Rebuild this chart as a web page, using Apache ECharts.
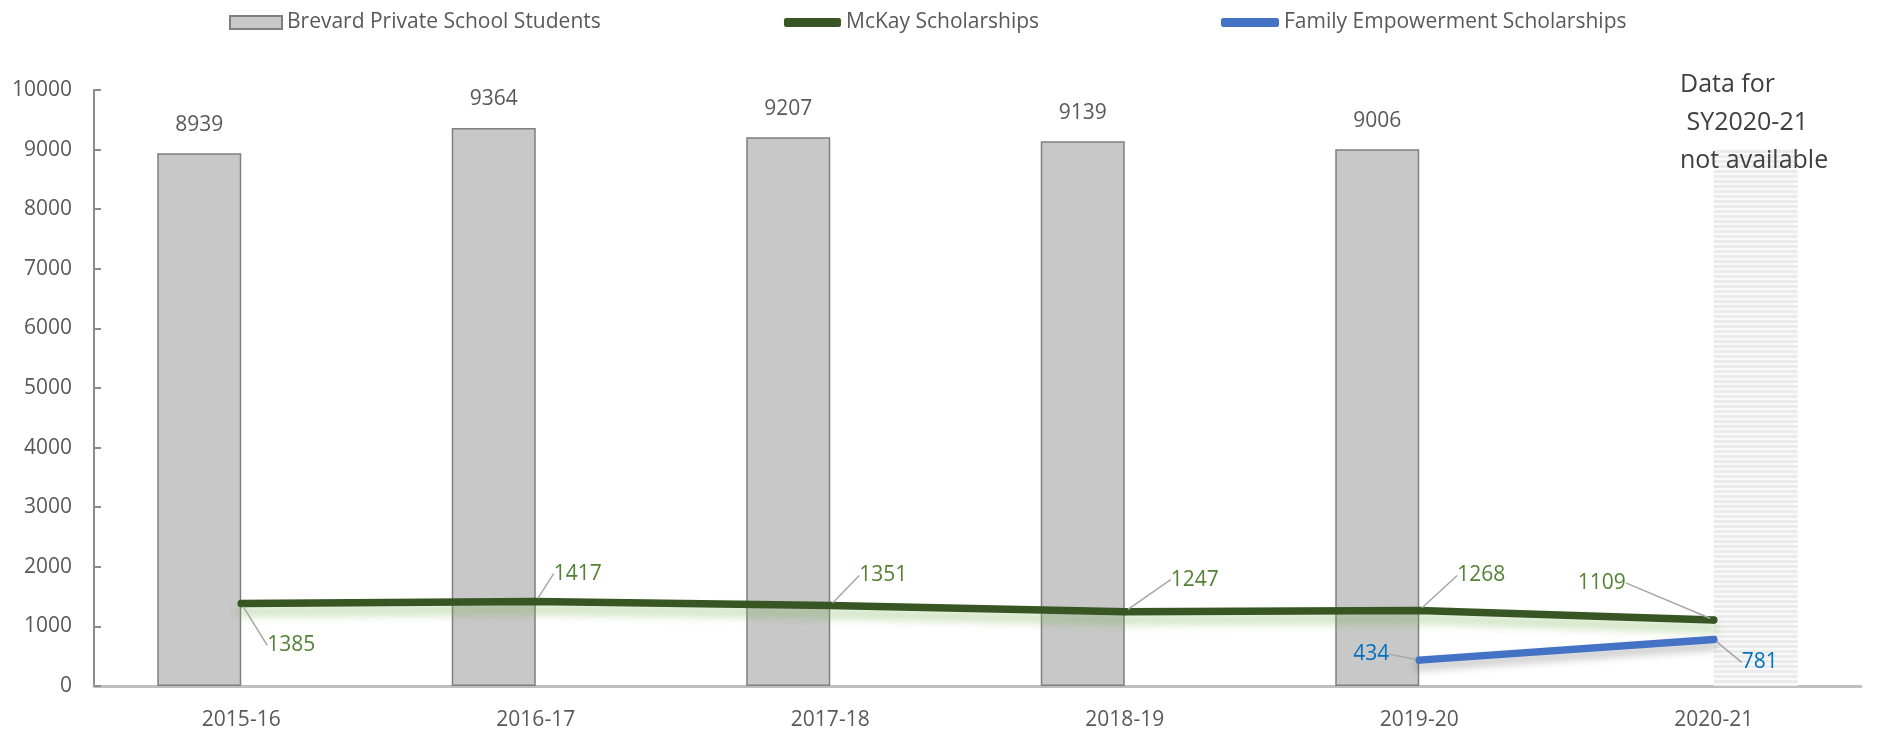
<!DOCTYPE html>
<html lang="en">
<head>
    <meta charset="UTF-8">
    <title>Brevard Private School Students</title>
    <style>
        body { margin: 0; background: #fff; }
    </style>
</head>
<body>
<div id="demo" style="width:1887px;height:745px"></div>
<script src="https://cdn.jsdelivr.net/npm/echarts@6/dist/echarts.min.js"></script>
<script type="text/javascript">

    var years = ['2015-16', '2016-17', '2017-18', '2018-19', '2019-20', '2020-21'];
    var privateStudents = [8939, 9364, 9207, 9139, 9006, null];
    var notAvailable = [null, null, null, null, null, 9000];
    var mckay = [1385, 1417, 1351, 1247, 1268, 1109];
    var familyEmp = [null, null, null, null, 434, 781];
    var yTicks = { min: 0, max: 10000, step: 1000 };

    // label offsets (px) from each point, roughly where the original puts them
    var mckayOff = [[50, 42], [42, -28], [53, -30], [70, -32], [62, -35], [-112, -37]];
    var famOff = [null, null, null, null, [-48, -6], [46, 23]];

    // striped fill for the "not available" column
    var cv = document.createElement('canvas');
    cv.width = 4; cv.height = 5;
    var cx = cv.getContext('2d');
    cx.fillStyle = '#ebebeb';
    cx.fillRect(0, 0, 4, 5);
    cx.fillStyle = '#fafafa';
    cx.fillRect(0, 3, 4, 2);

    var font = '"Open Sans", "Liberation Sans", sans-serif';
    var myChart = echarts.init(document.getElementById('demo'));

    var option = {
        animation: false,
        textStyle: { fontFamily: font },
        legend: [{
            data: [{ name: 'Brevard Private School Students', icon: 'rect' }],
            left: 224, top: 7, itemWidth: 52, itemHeight: 13,
            textStyle: { fontSize: 21, color: '#595959' }
        }, {
            data: [{ name: 'McKay Scholarships', icon: 'roundRect' }],
            left: 779, top: 7, itemWidth: 57, itemHeight: 9,
            textStyle: { fontSize: 21, color: '#595959' }
        }, {
            data: [{ name: 'Family Empowerment Scholarships', icon: 'roundRect' }],
            left: 1216, top: 7, itemWidth: 58, itemHeight: 9,
            textStyle: { fontSize: 21, color: '#595959' }
        }],
        grid: { left: 94, right: 26, top: 90, bottom: 59 },
        xAxis: {
            type: 'category',
            data: years,
            axisTick: { show: false },
            axisLine: { lineStyle: { color: '#bfbfbf', width: 3 } },
            axisLabel: { color: '#595959', fontSize: 21, margin: 24 }
        },
        yAxis: {
            type: 'value',
            min: yTicks.min, max: yTicks.max, interval: yTicks.step,
            splitLine: { show: false },
            axisLine: { show: true, lineStyle: { color: '#8c8c8c', width: 2 } },
            axisTick: { show: true, inside: true, length: 7, lineStyle: { color: '#8c8c8c', width: 2 } },
            axisLabel: {
                color: '#595959', fontSize: 21, margin: 22,
                formatter: function (v) { return String(v); }
            }
        },
        graphic: [{
            type: 'text',
            left: 1680, top: 66, z: 100,
            style: {
                text: 'Data for\n SY2020-21\nnot available',
                font: '25px ' + font,
                fill: '#404040',
                lineHeight: 38
            }
        }],
        series: [{
            name: 'Brevard Private School Students',
            type: 'bar',
            data: privateStudents,
            barWidth: 84,
            barGap: '0%',
            itemStyle: { color: '#c8c8c8', borderColor: '#7f7f7f', borderWidth: 1.5 },
            label: { show: true, position: 'top', distance: 18, color: '#595959', fontSize: 21 }
        }, {
            name: 'na',
            type: 'bar',
            data: notAvailable,
            barWidth: 84,
            itemStyle: { color: { image: cv, repeat: 'repeat' } },
            silent: true
        }, {
            name: 'McKay Scholarships',
            type: 'line',
            data: mckay,
            z: 5,
            symbol: 'circle',
            symbolSize: 7,
            itemStyle: { color: '#375623' },
            lineStyle: {
                color: '#375623', width: 7.5, cap: 'round',
                shadowColor: 'rgba(112,173,71,0.45)', shadowBlur: 10, shadowOffsetY: 8
            },
            label: { show: true, position: 'inside', color: '#548235', fontSize: 21 },
            labelLine: { show: true, lineStyle: { color: '#a6a6a6', width: 1.5 } },
            labelLayout: function (p) {
                var o = mckayOff[p.dataIndex];
                return { dx: o[0], dy: o[1] };
            }
        }, {
            name: 'Family Empowerment Scholarships',
            type: 'line',
            data: familyEmp,
            z: 5,
            symbol: 'circle',
            symbolSize: 7,
            itemStyle: { color: '#4472c4' },
            lineStyle: {
                color: '#4472c4', width: 7.5, cap: 'round',
                shadowColor: 'rgba(0,0,0,0.25)', shadowBlur: 8, shadowOffsetY: 6
            },
            label: { show: true, position: 'inside', color: '#0070c0', fontSize: 21 },
            labelLine: { show: true, lineStyle: { color: '#a6a6a6', width: 1.5 } },
            labelLayout: function (p) {
                var o = famOff[p.dataIndex] || [0, 0];
                return { dx: o[0], dy: o[1] };
            }
        }]
    };
    myChart.setOption(option);
</script>
</body>
</html>
